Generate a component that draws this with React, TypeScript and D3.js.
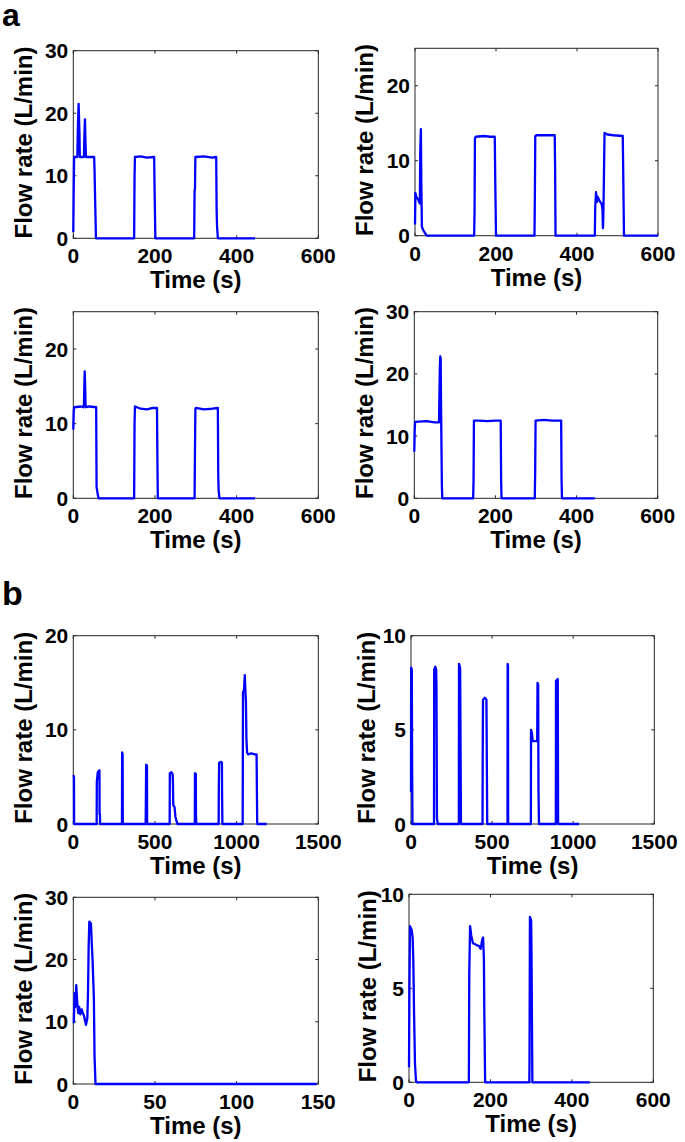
import React from "react";
import * as d3 from "d3";

// ---------- data (time s, flow L/min) ----------
const a1T = [0, 1, 2, 10, 11, 13, 15, 16, 26, 27, 28.5, 30, 31, 51, 52, 53.5, 55.5, 149, 150, 151, 165, 180, 198, 199, 201, 296, 297, 298, 299, 320, 340, 350, 351, 352, 354, 445];
const a1V = [1, 8, 13, 13, 17, 21.5, 17, 13, 13, 16, 19, 15, 13, 13, 11, 6, 0, 0, 10, 13, 13.1, 12.9, 13, 8, 0, 0, 7.5, 8, 13, 13.1, 12.9, 13, 4.5, 2, 0, 0];

const a2T = [0, 1, 3, 8, 12, 13, 14.5, 15.5, 17, 20, 24, 29, 146, 147, 148, 150, 170, 185, 197, 198, 200, 295, 296, 297, 299, 320, 345, 346, 347, 444, 445, 447, 449, 451, 456, 461, 463, 464, 465, 466, 468, 475, 490, 513, 514, 516, 600];
const a2V = [1.5, 5.7, 5.2, 4.8, 4.3, 11.5, 14.2, 7.5, 1.2, 0.8, 0.4, 0, 0, 3, 13, 13.2, 13.3, 13.2, 13.2, 8, 0, 0, 5.5, 13.3, 13.4, 13.4, 13.4, 9, 0, 0, 3.8, 5.8, 4.5, 5.2, 4.6, 4.2, 3.5, 1.0, 2.5, 6, 13.7, 13.5, 13.4, 13.3, 9, 0, 0];

const a3T = [0, 1, 2, 20, 25, 26, 27, 28, 29, 30, 31, 40, 56, 57, 60, 62, 149, 150, 151, 165, 180, 195, 205, 206, 207, 297, 298, 299, 300, 320, 340, 354, 355, 356, 358, 445];
const a3V = [9.2, 11.5, 12.2, 12.3, 12.2, 12.5, 15, 17, 15, 12.5, 12.2, 12.3, 12.2, 1.5, 0.5, 0, 0, 10, 12.3, 12, 11.9, 12.1, 12.1, 5, 0, 0, 6.5, 12, 12.1, 11.9, 12, 12.1, 3, 1, 0, 0];

const a4T = [0, 1, 2, 30, 50, 61, 62, 63, 64, 65, 66, 67, 68, 69, 145, 146, 147, 160, 180, 200, 213, 214, 215, 297, 298, 299, 320, 340, 362, 363, 364, 445];
const a4V = [7.5, 11, 12.3, 12.4, 12.2, 12.2, 17, 21, 22.8, 22.5, 14.5, 8, 2, 0, 0, 2.5, 12.5, 12.5, 12.4, 12.5, 12.5, 3, 0, 0, 4.5, 12.5, 12.6, 12.5, 12.5, 3, 0, 0];

const b1T = [0, 4, 5, 143, 144, 150, 160, 161, 163, 164, 298, 299, 302, 303, 443, 444, 446, 451, 452, 590, 591, 600, 608, 610, 612, 620, 625, 632, 638, 744, 745, 750, 751, 753, 890, 891, 893, 905, 910, 911, 913, 1037, 1039, 1045, 1050, 1054, 1057, 1060, 1064, 1070, 1090, 1110, 1122, 1126, 1184];
const b1V = [5.2, 5.0, 0, 0, 4.5, 5.5, 5.7, 1, 1, 0, 0, 7.6, 7.4, 0, 0, 2, 6.3, 6.2, 0, 0, 5.4, 5.5, 5.3, 4.5, 2, 1.8, 0.8, 0.3, 0, 0, 5.4, 5.3, 1, 0, 0, 4, 6.5, 6.6, 6.5, 3, 0, 0, 14, 14.2, 15.8, 14, 13, 9, 7.6, 7.4, 7.5, 7.4, 7.4, 0, 0];

const b2T = [0, 1, 5, 7, 9, 142, 143, 150, 155, 157, 160, 165, 295, 296, 303, 306, 308, 441, 442, 444, 455, 465, 466, 470, 595, 596, 598, 599, 739, 740, 746, 750, 765, 778, 780, 784, 786, 789, 893, 894, 905, 907, 1036];
const b2V = [1.7, 8.3, 8.2, 3, 0, 0, 8.2, 8.35, 8.2, 7.3, 0.3, 0, 0, 8.5, 8.3, 3.3, 0, 0, 3.5, 6.6, 6.7, 6.6, 5.3, 0, 0, 8.5, 8.4, 0, 0, 5.0, 4.8, 4.4, 4.4, 4.4, 7.5, 7.4, 1.8, 0, 0, 7.6, 7.7, 0, 0];

const b3T = [0.3, 0.8, 1.3, 1.8, 2.4, 3.0, 3.6, 4.3, 5.1, 5.8, 6.6, 7.8, 8.6, 9.0, 9.4, 9.8, 10.8, 11.3, 11.8, 12.6, 13.0, 13.6, 149];
const b3V = [9.75, 14.6, 12.4, 15.9, 13.2, 11.4, 12.4, 11.2, 12.0, 11.4, 10.9, 9.5, 10.6, 14.6, 22.1, 26.1, 25.8, 22.6, 19.9, 13.8, 4.4, 0, 0];

const b4T = [0, 1, 2.5, 6.5, 9, 10.6, 12.3, 14.7, 17, 19, 147, 148, 150, 153, 157, 166, 172, 176, 180, 182, 184, 185, 187, 295.5, 296, 297, 300, 301, 302, 303, 444];
const b4V = [0.8, 5, 8.3, 8.1, 7.7, 6.5, 3.85, 1.0, 0.1, 0, 0, 5.8, 8.3, 7.8, 7.4, 7.3, 7.25, 7.1, 7.6, 7.7, 6.5, 3.7, 0, 0, 1, 8.8, 8.6, 6.5, 3.3, 0, 0];

// ---------- tick labels ----------
const xTicks600 = [0, 200, 400, 600];
const xTicks1500 = [0, 500, 1000, 1500];
const xTicks150 = [0, 50, 100, 150];
const yTicks30 = [0, 10, 20, 30];
const yTicks25 = [0, 10, 20];
const yTicks20 = [0, 10, 20];
const yTicks10 = [0, 5, 10];

const xLabel = "Time (s)";
const yLabel = "Flow rate (L/min)";
const panelLetters = ["a", "b"];

// ---------- layout ----------
type Panel = {
  t: number[]; v: number[]; xMax: number; yMax: number; xt: number[]; yt: number[];
  x0: number; x1: number; y0: number; y1: number; labX: number;
};

const panels: Panel[] = [
  { t: a1T, v: a1V, xMax: 600, yMax: 30, xt: xTicks600, yt: yTicks30, x0: 73.3, x1: 318.3, y0: 50.7, y1: 238.3, labX: 32 },
  { t: a2T, v: a2V, xMax: 600, yMax: 25, xt: xTicks600, yt: yTicks25, x0: 415, x1: 658, y0: 48.3, y1: 235.7, labX: 373 },
  { t: a3T, v: a3V, xMax: 600, yMax: 25, xt: xTicks600, yt: yTicks25, x0: 73.3, x1: 318.3, y0: 311.7, y1: 498.3, labX: 32 },
  { t: a4T, v: a4V, xMax: 600, yMax: 30, xt: xTicks600, yt: yTicks30, x0: 414.3, x1: 657.7, y0: 311.7, y1: 498.3, labX: 373 },
  { t: b1T, v: b1V, xMax: 1500, yMax: 20, xt: xTicks1500, yt: yTicks20, x0: 73.3, x1: 318.3, y0: 635.7, y1: 824, labX: 32 },
  { t: b2T, v: b2V, xMax: 1500, yMax: 10, xt: xTicks1500, yt: yTicks10, x0: 411, x1: 654.3, y0: 635.7, y1: 824, labX: 375 },
  { t: b3T, v: b3V, xMax: 150, yMax: 30, xt: xTicks150, yt: yTicks30, x0: 73.3, x1: 318.3, y0: 897.3, y1: 1084, labX: 32 },
  { t: b4T, v: b4V, xMax: 600, yMax: 10, xt: xTicks600, yt: yTicks10, x0: 409, x1: 653.3, y0: 894.3, y1: 1082.3, labX: 376 },
];

const FONT = "'Liberation Sans', Arial, Helvetica, sans-serif";
const AXC = "#262626";
const TICK = 3;

function PanelView({ p }: { p: Panel }) {
  const x = d3.scaleLinear().domain([0, p.xMax]).range([p.x0, p.x1]);
  const y = d3.scaleLinear().domain([0, p.yMax]).range([p.y1, p.y0]);
  const pts: [number, number][] = p.t.map((t, i) => [t, p.v[i]]);
  const line = d3.line<[number, number]>().x((d) => x(d[0])).y((d) => y(d[1]));
  const cy = (p.y0 + p.y1) / 2 - 2;
  return (
    <g>
      <rect x={p.x0} y={p.y0} width={p.x1 - p.x0} height={p.y1 - p.y0} fill="#fff" stroke={AXC} strokeWidth={1} />
      {p.xt.map((t) => (
        <g key={"x" + t}>
          <line x1={x(t)} x2={x(t)} y1={p.y1} y2={p.y1 - TICK} stroke={AXC} />
          <line x1={x(t)} x2={x(t)} y1={p.y0} y2={p.y0 + TICK} stroke={AXC} />
          <text x={x(t)} y={p.y1 + 25} textAnchor="middle" fontSize={21} fontWeight="bold" fontFamily={FONT} fill="#000">{t}</text>
        </g>
      ))}
      {p.yt.map((t) => (
        <g key={"y" + t}>
          <line x1={p.x0} x2={p.x0 + TICK} y1={y(t)} y2={y(t)} stroke={AXC} />
          <line x1={p.x1} x2={p.x1 - TICK} y1={y(t)} y2={y(t)} stroke={AXC} />
          <text x={p.x0 - 5} y={y(t) + 7.5} textAnchor="end" fontSize={21} fontWeight="bold" fontFamily={FONT} fill="#000">{t}</text>
        </g>
      ))}
      <path d={line(pts) || ""} fill="none" stroke="#0000ff" strokeWidth={2.3} strokeLinejoin="round" />
      <text x={(p.x0 + p.x1) / 2} y={p.y1 + 50} textAnchor="middle" fontSize={24} fontWeight="bold" fontFamily={FONT} fill="#000">{xLabel}</text>
      <text transform={`translate(${p.labX},${cy}) rotate(-90)`} textAnchor="middle" fontSize={24} fontWeight="bold" fontFamily={FONT} fill="#000">{yLabel}</text>
    </g>
  );
}

export default function App() {
  return (
    <svg width={685} height={1142} style={{ position: "absolute", left: 0, top: 0, background: "#fff" }}>
      <rect x={0} y={0} width={685} height={1142} fill="#fff" />
      <text x={2} y={26} fontSize={32} fontWeight="bold" fontFamily={FONT} fill="#000">{panelLetters[0]}</text>
      <text x={2} y={605} fontSize={34} fontWeight="bold" fontFamily={FONT} fill="#000">{panelLetters[1]}</text>
      {panels.map((p, i) => <PanelView key={i} p={p} />)}
    </svg>
  );
}
